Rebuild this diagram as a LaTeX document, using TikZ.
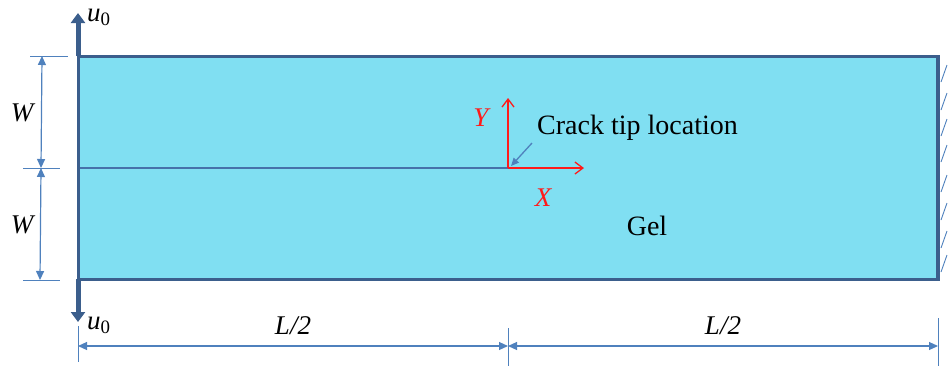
\documentclass[tikz,border=0pt]{standalone}
\usepackage{fontspec}
\setmainfont{Liberation Serif}
\usetikzlibrary{arrows.meta}
\definecolor{gel}{HTML}{80DFF2}
\definecolor{rim}{HTML}{3B5E8C}
\definecolor{dim}{HTML}{4F81BD}
\definecolor{crackc}{HTML}{4672AA}
\definecolor{axred}{HTML}{FF1A1A}
\tikzset{
  dimline/.style={dim, line width=1.2pt, {Triangle[length=9pt,width=8pt]}-{Triangle[length=9pt,width=8pt]}},
  extline/.style={dim, line width=1pt},
  axarrow/.style={axred, line width=1.3pt, -{Straight Barb[length=8pt,width=12pt]}},
  loadarrow/.style={rim, line width=5pt, -{Triangle[length=10pt,width=14pt]}},
  lbl/.style={font=\fontsize{27}{29}\selectfont\itshape, inner sep=0pt},
  txt/.style={font=\fontsize{28}{30}\selectfont, inner sep=0pt}
}
\begin{document}
\begin{tikzpicture}[x=1pt,y=-1pt]
\useasboundingbox (0,0) rectangle (948,368);
% corners
\coordinate (tl) at (78,56);
\coordinate (br) at (938,279);
\coordinate (ml) at (78,168);
\coordinate (tip) at (508,168);
% body
\fill[gel] (tl) rectangle (br);
\draw[crackc, line width=2.6pt] (ml) -- (tip);
\draw[rim, line width=3pt] (tl) rectangle (br);
\draw[rim, line width=4pt] (938,56) -- (br);
% hatches
\foreach \yy in {82,110,136,162,192,220,248,272}
  \draw[dim, line width=0.9pt] (941,\yy) -- (947,\yy-17);
% loads
\coordinate (utop) at (78,13);
\coordinate (ubot) at (78,322);
\draw[loadarrow] (tl) -- (utop);
\draw[loadarrow] (78,279) -- (ubot);
\node[inner sep=0pt, font=\fontsize{27}{29}\selectfont, anchor=west] (u1) at (87,17) {\textit{u}\textsubscript{0}};
\node[inner sep=0pt, font=\fontsize{27}{29}\selectfont, anchor=west] (u2) at (87,325) {\textit{u}\textsubscript{0}};
% W dimensions
\coordinate (wt) at (42,56);
\coordinate (wm) at (41,168);
\coordinate (wb) at (40,280);
\draw[extline] (30,56) -- (68,56);
\draw[extline] (23,168) -- (60,168);
\draw[extline] (23,280) -- (60,280);
\draw[dimline] (wt) -- (wm);
\draw[dimline] (wm) -- (wb);
\node[lbl] (w1) at (22,113) {W};
\node[lbl] (w2) at (22,225) {W};
% L/2 dimensions
\coordinate (la) at (78,346);
\coordinate (lb) at (508,346);
\coordinate (lc) at (938,346);
\draw[extline] (78,326) -- (78,362);
\draw[extline] (508,328) -- (508,366);
\draw[extline] (938,318) -- (938,366);
\draw[dimline] (la) -- (lb);
\draw[dimline] (lb) -- (lc);
\node[lbl] (l1) at (293,326) {L/2};
\node[lbl] (l2) at (723,326) {L/2};
% axes
\coordinate (yend) at (508,98);
\coordinate (xend) at (584,168);
\draw[axarrow] (tip) -- (yend);
\draw[axarrow] (tip) -- (xend);
\node[lbl, text=axred] (ylab) at (481,118) {Y};
\node[lbl, text=axred] (xlab) at (543,198) {X};
% label
\node[txt, anchor=west] (crack) at (537,128) {Crack tip location};
\coordinate (ptr) at (532,143);
\draw[dim, line width=1.3pt, -{Triangle[length=8pt,width=7pt]}] (ptr) -- (511,166);
\node[txt] (gel) at (647,226) {Gel};
\end{tikzpicture}
\end{document}
